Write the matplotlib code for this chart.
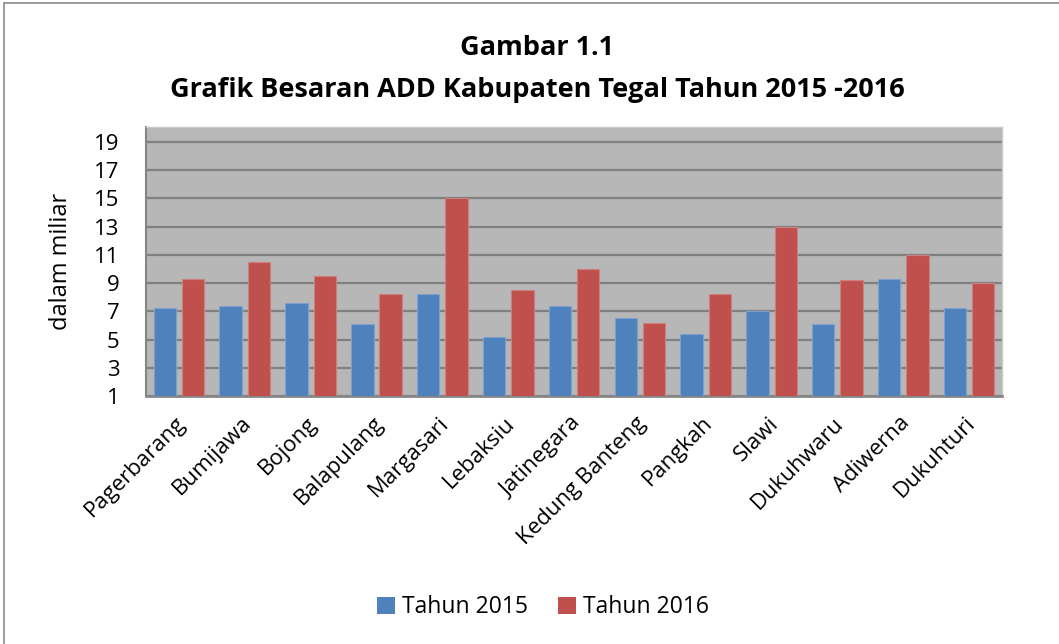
import matplotlib
matplotlib.use('Agg')
import matplotlib.pyplot as plt
import matplotlib.transforms as mtransforms
from matplotlib.patches import Rectangle, Patch
import numpy as np

plt.rcParams['font.family'] = ['Open Sans', 'DejaVu Sans']

# data (dalam miliar)
kecamatan = ['Pagerbarang', 'Bumijawa', 'Bojong', 'Balapulang', 'Margasari',
             'Lebaksiu', 'Jatinegara', 'Kedung Banteng', 'Pangkah', 'Slawi',
             'Dukuhwaru', 'Adiwerna', 'Dukuhturi']
tahun_2015 = [7.2, 7.4, 7.6, 6.1, 8.2, 5.2, 7.4, 6.5, 5.4, 7.0, 6.1, 9.3, 7.2]
tahun_2016 = [9.3, 10.5, 9.5, 8.2, 15.0, 8.5, 10.0, 6.2, 8.2, 13.0, 9.2, 11.0, 9.0]
y_ticks = [1, 3, 5, 7, 9, 11, 13, 15, 17, 19]

fig = plt.figure(figsize=(10.59, 6.44), dpi=100)
ax = fig.add_axes([0.1379, 0.3851, 0.8083, 0.4177])

x = np.arange(len(kecamatan))
w = 0.34
ax.bar(x - 0.215, tahun_2015, w, bottom=0, color='#4F81BD', edgecolor='#7DA0CC', linewidth=0.8,
       label='Tahun 2015', zorder=3)
ax.bar(x + 0.215, tahun_2016, w, bottom=0, color='#C0504D', edgecolor='#CF7F7D', linewidth=0.8,
       label='Tahun 2016', zorder=3)

ax.set_facecolor('#B7B7B7')
ax.set_xlim(-0.5, len(kecamatan) - 0.5)
ax.set_ylim(1, 20.05)
ax.set_yticks(y_ticks)
ax.yaxis.grid(True, color='#808080', linewidth=1.6, zorder=1)
ax.set_axisbelow(True)
ax.tick_params(axis='y', length=0, labelsize=16, pad=19)
ax.tick_params(axis='x', length=0, labelsize=16, pad=12)
for s in ['top', 'right']:
    ax.spines[s].set_color('#C8C8C8')
    ax.spines[s].set_linewidth(1)
ax.spines['left'].set_color('#868686')
ax.spines['left'].set_linewidth(1.5)
ax.spines['bottom'].set_color('#868686')
ax.spines['bottom'].set_linewidth(2)

ax.set_xticks(x)
ax.set_xticklabels(kecamatan, rotation=45, ha='right', va='top', rotation_mode='anchor')
offset = mtransforms.ScaledTranslation(-0.04, 0, fig.dpi_scale_trans)
for lbl in ax.get_xticklabels():
    lbl.set_transform(lbl.get_transform() + offset)

ax.set_ylabel('dalam miliar', fontsize=17, labelpad=15)

fig.text(0.507, 0.925, 'Gambar 1.1', ha='center', va='center', fontsize=19.5, fontweight='bold')
fig.text(0.507, 0.861, 'Grafik Besaran ADD Kabupaten Tegal Tahun 2015 -2016', ha='center',
         va='center', fontsize=19.5, fontweight='bold')

handles = [Patch(facecolor='#4F81BD'), Patch(facecolor='#C0504D')]
fig.legend(handles, ['Tahun 2015', 'Tahun 2016'], loc='center', bbox_to_anchor=(0.513, 0.057),
           ncol=2, frameon=False, fontsize=16.5, handlelength=0.8, handleheight=0.8,
           handletextpad=0.3, columnspacing=1.3)

fig.patches.append(Rectangle((0.004, -0.01), 1.0, 1.005, transform=fig.transFigure,
                             fill=False, edgecolor='#8A8A8A', linewidth=1.2))

fig.savefig('out.png', dpi=100)
